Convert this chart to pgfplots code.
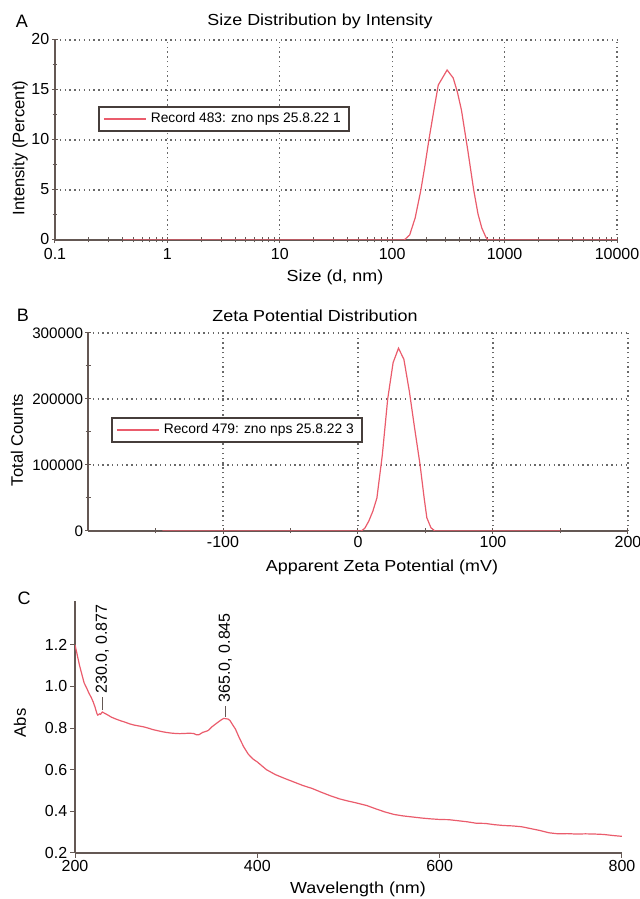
\documentclass[border=0pt]{standalone}
\usepackage{pgfplots}
\pgfplotsset{compat=1.18}
\usepackage{fontspec}
\setmainfont[FakeStretch=1.12]{Liberation Sans}
\newfontfamily\rotfont{Liberation Sans}
\definecolor{curve}{RGB}{234,92,108}
\definecolor{axisc}{RGB}{100,88,84}
\definecolor{gridc}{RGB}{105,105,105}

\pgfplotsset{
  panel/.style={
    scale only axis, anchor=south west,
    axis lines=left, axis line style={-, axisc, line width=0.6pt},
    tick style={axisc, line width=0.5pt},
    /pgf/number format/assume math mode=true,
    tick label style={inner sep=1.2pt, font=\rotfont\fontsize{8}{9.6}\selectfont},
  },
  spec/.style={curve, line width=0.6pt, mark=none},
  dlsgrid/.style={
    grid=major,
    major grid style={gridc, line width=0.6pt, dash pattern=on 0.7pt off 1.7pt},
    tick align=center, major tick length=3pt, minor tick length=2.5pt,
    legend style={draw=axisc!70!black, line width=0.8pt, fill=white,
      font=\rotfont\fontsize{6.9}{8}\selectfont, inner xsep=2pt, inner ysep=0.8pt,
      anchor=north west},
    legend image code/.code={\draw[#1, line width=1pt] (0pt,0pt) -- (21pt,0pt);},
  },
}

\begin{document}
\begin{tikzpicture}[font=\fontsize{8}{9.6}\selectfont]
\useasboundingbox (0,0) rectangle (319.5pt,449.5pt);

% A: size distribution
\begin{axis}[panel, dlsgrid,
    at={(27.5pt,329.5pt)}, width=281pt, height=100pt,
    xmode=log, xmin=0.1, xmax=10000, ymin=0, ymax=20,
    xtick={0.1,1,10,100,1000,10000},
    xticklabels={0.1,1,10,100,1000,10000},
    xticklabel style={yshift=-1.2pt},
    minor xtick={0.2,0.3,0.4,0.5,0.6,0.7,0.8,0.9,2,3,4,5,6,7,8,9,
      20,30,40,50,60,70,80,90,200,300,400,500,600,700,800,900,
      2000,3000,4000,5000,6000,7000,8000,9000},
    ytick={0,5,10,15,20}, minor ytick={2.5,7.5,12.5,17.5},
    yticklabel style={yshift=0.6pt},
    legend style={at={(0.0765,0.67)}},
  ]
  \addplot[spec] coordinates {
    (0.4,0) (1,0) (10,0) (100,0) (128,0) (143,0.5) (160,2.2) (180,5)
    (196,7.5) (212,10) (235,13) (257,15.5) (308,17) (349,16.2) (380,14.8)
    (413,13) (470,9) (531,5) (580,2.6) (627,1.2) (680,0.3) (712,0)
    (1000,0) (10000,0)};
  \addlegendentry{Record 483: zno nps 25.8.22 1}
\end{axis}

% B: zeta potential
\begin{axis}[panel, dlsgrid,
    at={(44pt,184pt)}, width=270pt, height=99pt,
    xmin=-200, xmax=200, ymin=0, ymax=300000,
    xtick={-100,0,100,200}, minor xtick={-150,-50,50,150},
    ytick={0,100000,200000,300000}, minor ytick={50000,150000,250000},
    scaled y ticks=false,
    yticklabel style={/pgf/number format/fixed, /pgf/number format/1000 sep={},
      font=\rotfont\fontsize{7.6}{9}\selectfont, inner sep=0.8pt},
    legend style={at={(0.0426,0.576)}},
  ]
  \addplot[spec] coordinates {
    (-145,0) (0,0) (2.4,0) (5,4000) (8,15000) (11,30000) (14,50000)
    (18,115000) (22,200000) (26,255000) (30,277000) (34,260000)
    (38,212000) (42,155000) (46,100000) (49,50000) (51,20000) (54,5000)
    (57,0) (150,0)};
  \addlegendentry{Record 479: zno nps 25.8.22 3}
\end{axis}

% C: UV-vis spectrum
\begin{axis}[panel,
    at={(37.5pt,23pt)}, width=273.5pt, height=126pt,
    xmin=200, xmax=800, ymin=0.2, ymax=1.41,
    xtick={200,400,600,800}, ytick={0.2,0.4,0.6,0.8,1.0,1.2},
    tick align=outside, major tick length=2.5pt,
    yticklabel style={/pgf/number format/fixed, /pgf/number format/fixed zerofill,
      /pgf/number format/precision=1},
  ]
  \addplot[spec] coordinates {
    (200,1.2) (203,1.14) (205,1.10) (208,1.05) (210,1.017) (213,0.99)
    (215,0.97) (218,0.945) (220,0.925) (222,0.90) (224,0.87) (225,0.862)
    (227,0.868) (228,0.866) (230,0.877) (232,0.872) (235,0.865)
    (240,0.852) (245,0.843) (250,0.835) (255,0.828) (260,0.82) (265,0.814)
    (270,0.81) (275,0.806) (280,0.80) (285,0.793) (290,0.788) (295,0.783)
    (300,0.779) (305,0.776) (310,0.774) (315,0.773) (320,0.774)
    (325,0.775) (330,0.774) (333,0.768) (336,0.768) (340,0.779)
    (343,0.783) (346,0.788) (350,0.805) (355,0.822) (360,0.838)
    (363,0.846) (365,0.845) (368,0.843) (370,0.836) (373,0.815)
    (376,0.795) (380,0.755) (385,0.71) (390,0.675) (395,0.652)
    (400,0.637) (410,0.60) (420,0.576) (430,0.558) (440,0.541)
    (450,0.524) (460,0.51) (470,0.492) (480,0.475) (490,0.46) (500,0.449)
    (510,0.439) (520,0.428) (530,0.412) (540,0.397) (550,0.385)
    (560,0.378) (570,0.373) (580,0.368) (590,0.364) (600,0.361)
    (610,0.36) (620,0.355) (630,0.35) (640,0.343) (650,0.342) (660,0.336)
    (670,0.332) (680,0.33) (690,0.326) (700,0.317) (710,0.308)
    (720,0.297) (730,0.292) (740,0.293) (750,0.291) (760,0.292)
    (770,0.291) (780,0.289) (790,0.284) (800,0.28)};
  \addplot[axisc, line width=0.6pt, mark=none, forget plot] coordinates {(230,0.886) (230,0.95)};
  \addplot[axisc, line width=0.6pt, mark=none, forget plot] coordinates {(365,0.855) (365,0.905)};
  \node[rotate=90, anchor=west, inner sep=0pt, font=\rotfont\fontsize{8}{9.6}\selectfont]
    at (axis cs:230,0.963) {230.0, 0.877};
  \node[rotate=90, anchor=west, inner sep=0pt, font=\rotfont\fontsize{8}{9.6}\selectfont]
    at (axis cs:365,0.922) {365.0, 0.845};
\end{axis}

% titles, axis labels and panel letters
\begin{scope}[every node/.style={inner sep=0pt}]
  \node[font=\rotfont\fontsize{9}{10}\selectfont] at (11pt,439pt) {A};
  \node at (160pt,439pt) {Size Distribution by Intensity};
  \node at (167.5pt,311pt) {Size (d, nm)};
  \node[rotate=90, font=\rotfont\fontsize{8.3}{10}\selectfont] at (10pt,375.5pt) {Intensity (Percent)};

  \node[font=\rotfont\fontsize{9}{10}\selectfont] at (11.5pt,292pt) {B};
  \node at (157.5pt,291.5pt) {Zeta Potential Distribution};
  \node at (191pt,166pt) {Apparent Zeta Potential (mV)};
  \node[rotate=90, font=\rotfont\fontsize{8.3}{10}\selectfont] at (8.5pt,229.5pt) {Total Counts};

  \node[font=\rotfont\fontsize{9}{10}\selectfont] at (12pt,150.5pt) {C};
  \node at (179pt,5pt) {Wavelength (nm)};
  \node[rotate=90, font=\rotfont\fontsize{8.3}{10}\selectfont] at (10pt,88pt) {Abs};
\end{scope}
\end{tikzpicture}
\end{document}
